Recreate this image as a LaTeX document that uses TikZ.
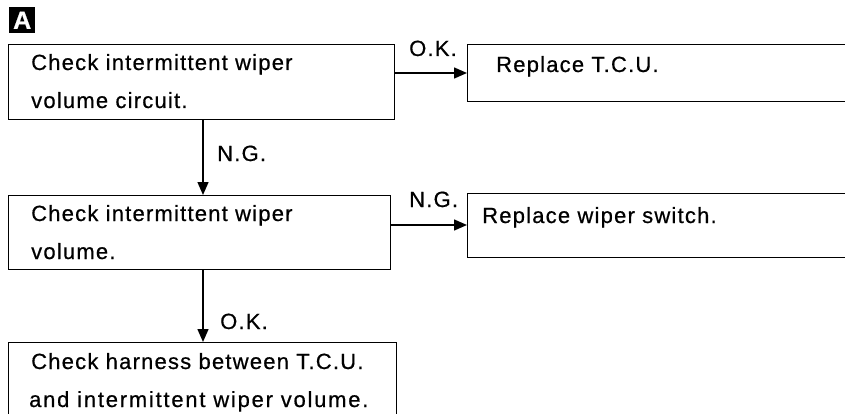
\documentclass[tikz,border=0pt]{standalone}
\usepackage{fontspec}
\setmainfont{Liberation Sans}[LetterSpace=5.5,FakeBold=0.6]
\usetikzlibrary{arrows.meta}
\tikzset{
  box/.style={draw, line width=1.4pt, rectangle, inner sep=0pt, anchor=north west},
  txt/.style={anchor=base west, inner sep=0pt, font=\fontsize{22}{24}\selectfont},
  lbl/.style={anchor=base west, inner sep=0pt, font=\fontsize{22}{24}\selectfont},
  conn/.style={line width=1.4pt, -{Triangle[length=13pt,width=11pt]}},
}
\begin{document}
\begin{tikzpicture}[x=1pt,y=-1pt]
\useasboundingbox (0,0) rectangle (845,414);
\clip (0,0) rectangle (845,414);
% label A
\node[fill=black, text=white, inner sep=0pt, minimum width=26pt, minimum height=26pt, anchor=north west,
      font=\fontsize{25}{25}\selectfont\bfseries] (A) at (9,7) {A};
% boxes
\node[box, minimum width=386pt, minimum height=75pt] (b1) at (8,44) {};
\node[box, minimum width=400pt, minimum height=57pt] (b2) at (467,44) {};
\node[box, minimum width=382pt, minimum height=74pt] (b3) at (8,195) {};
\node[box, minimum width=400pt, minimum height=64pt] (b4) at (467,193) {};
\node[box, minimum width=388pt, minimum height=90pt] (b5) at (8,342) {};
% texts
\node[txt] (t1a) at (31,70) {Check intermittent wiper};
\node[txt] (t1b) at (31,108) {volume circuit.};
\node[txt] (t2) at (496,72) {Replace T.C.U.};
\node[txt] (t3a) at (31,221) {Check intermittent wiper};
\node[txt] (t3b) at (31,259) {volume.};
\node[txt] (t4) at (482,223) {Replace wiper switch.};
\node[txt] (t5a) at (31,369) {Check harness between T.C.U.};
\node[txt] (t5b) at (29,407) {\addfontfeature{LetterSpace=8}and intermittent wiper volume.};
% connectors
\coordinate (c12) at (394,73);
\coordinate (c34) at (390,225);
\draw[conn] (c12) -- (c12 -| b2.west);
\draw[conn] (c34) -- (c34 -| b4.west);
\draw[conn] (b1.south -| 203,0) -- (b3.north -| 203,0);
\draw[conn] (b3.south -| 203,0) -- (b5.north -| 203,0);
% labels
\node[lbl] (l1) at (409,56) {O.K.};
\node[lbl] (l2) at (217,161) {N.G.};
\node[lbl] (l3) at (409,207) {N.G.};
\node[lbl] (l4) at (220,329) {O.K.};
\end{tikzpicture}
\end{document}
